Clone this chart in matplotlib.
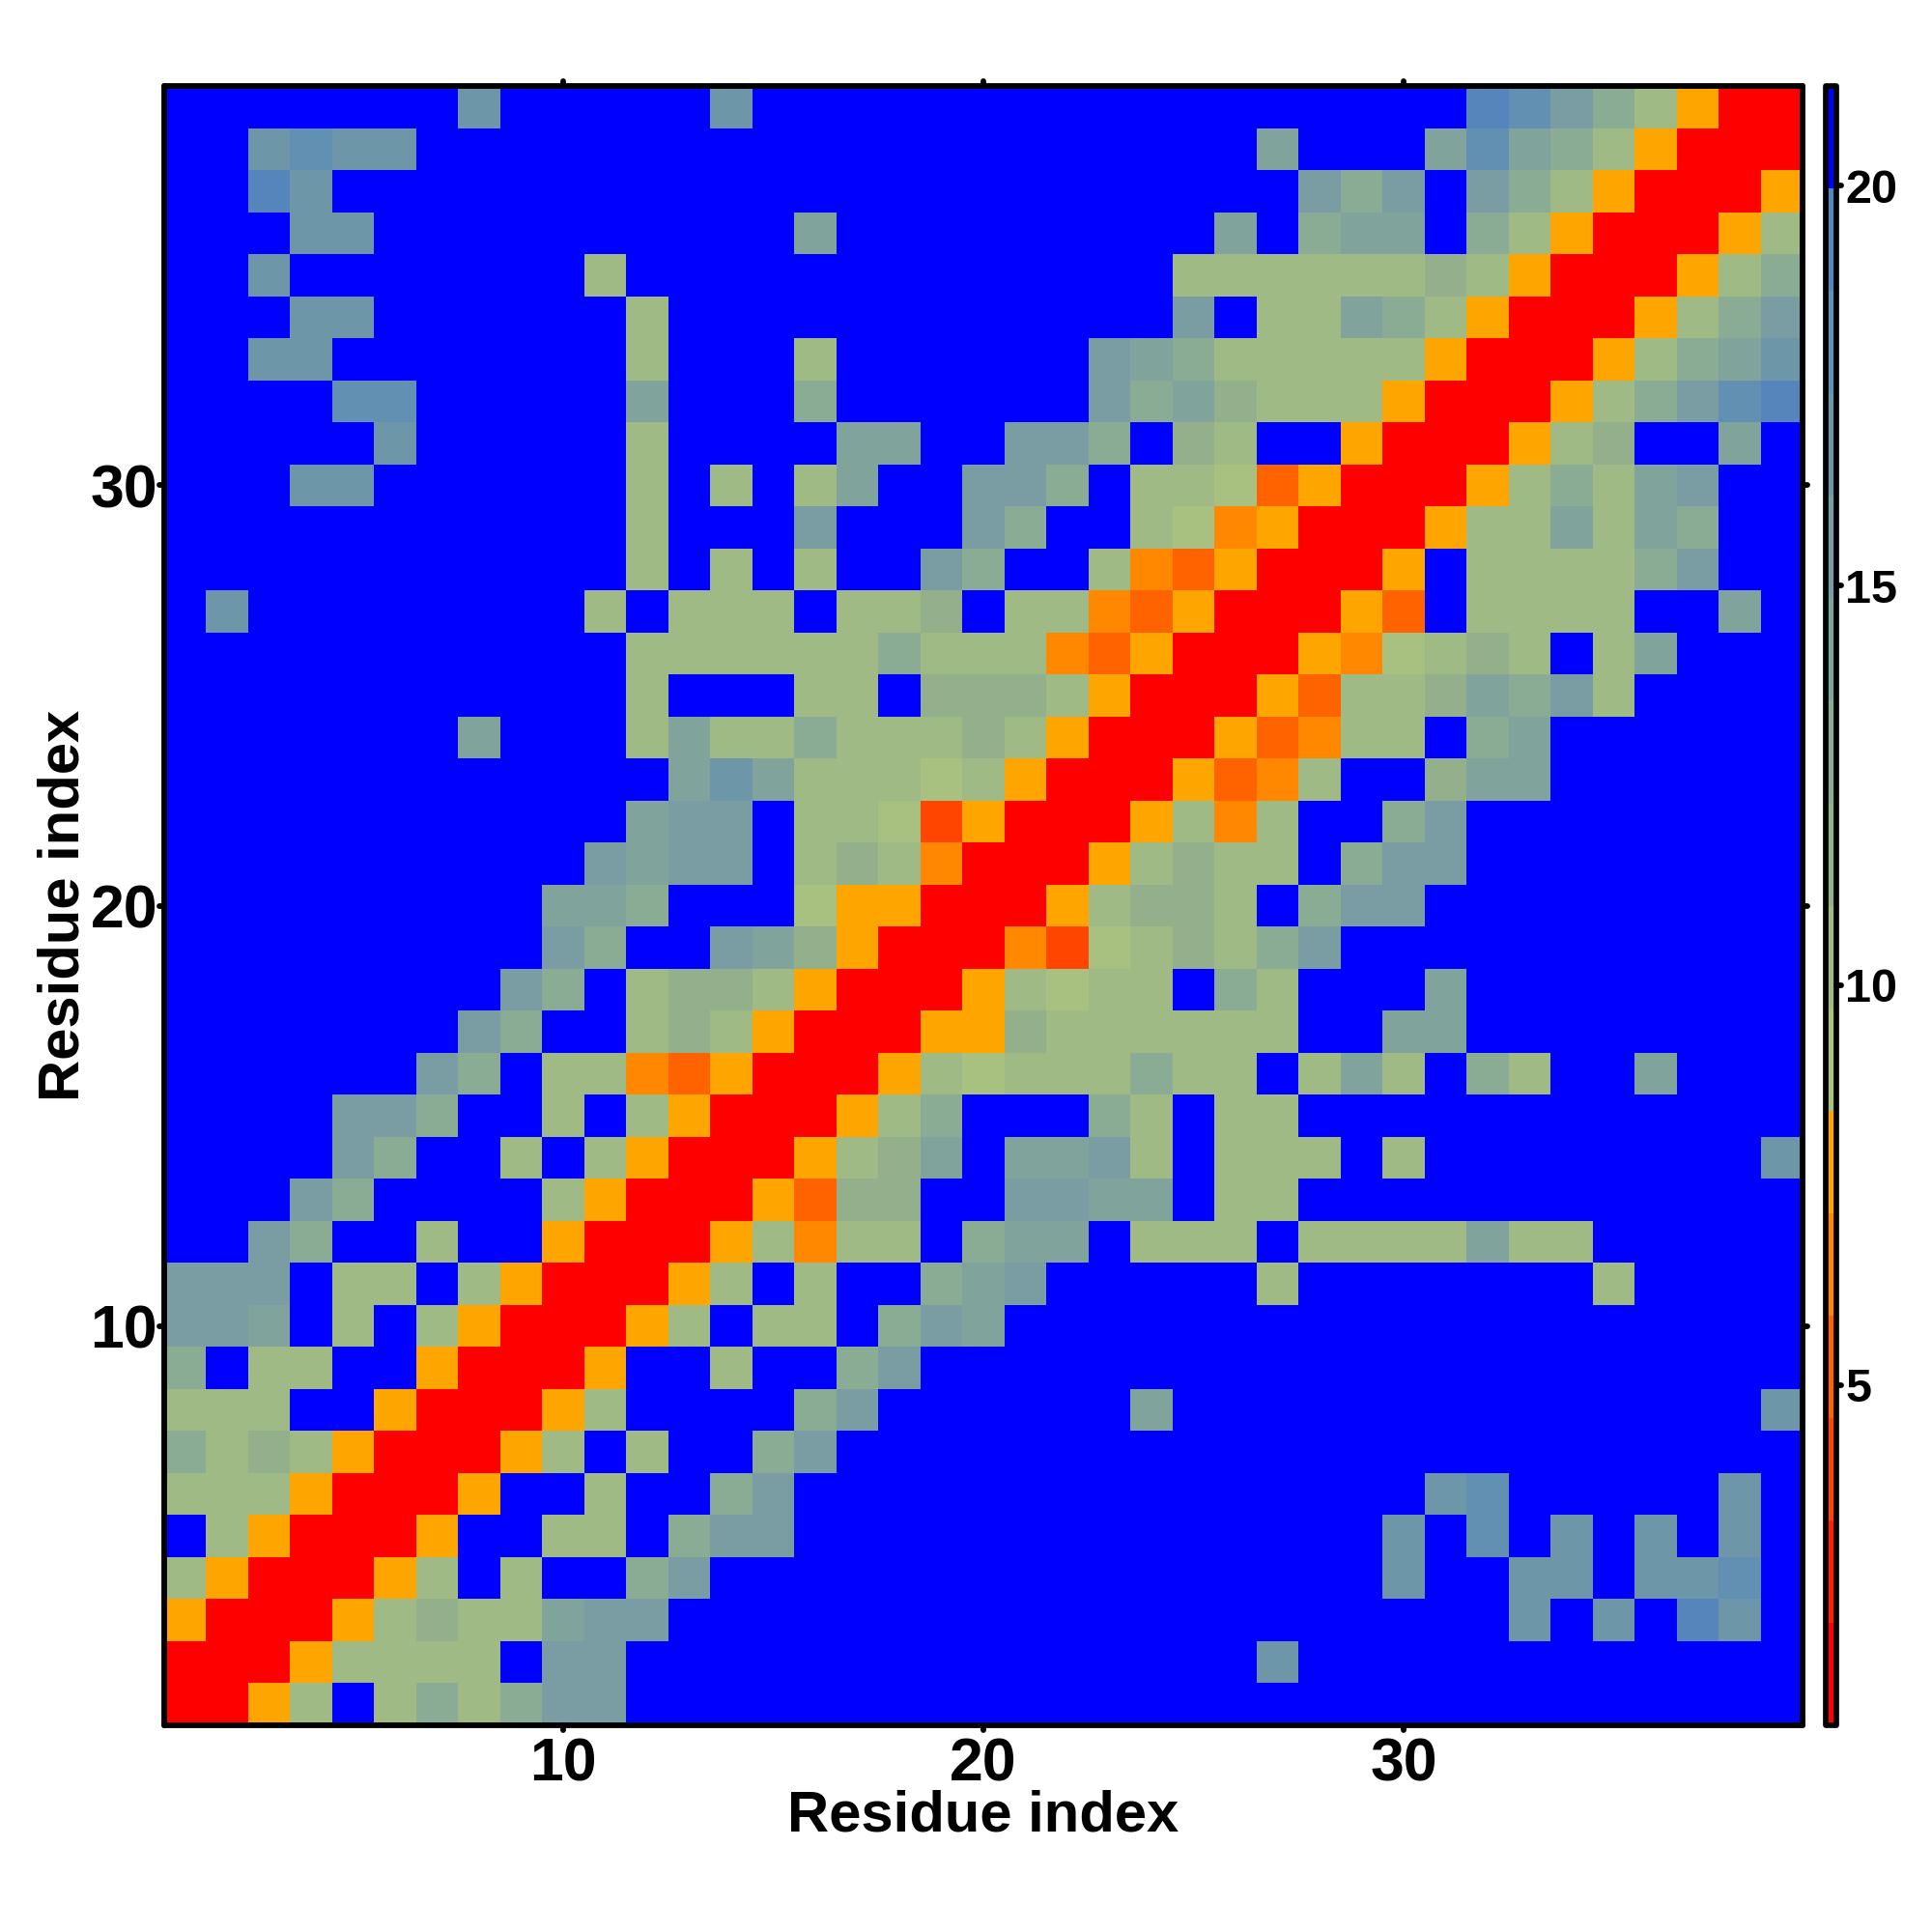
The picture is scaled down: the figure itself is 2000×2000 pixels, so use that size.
"""Residue distance map with a stepped colour bar."""

import numpy as np
import matplotlib
matplotlib.use("Agg")
import matplotlib.pyplot as plt
from matplotlib.colors import ListedColormap, Normalize
from matplotlib.markers import MarkerStyle, TICKLEFT, TICKRIGHT, TICKUP, TICKDOWN

plt.rcParams["font.family"] = ["Liberation Sans", "DejaVu Sans"]
plt.rcParams["font.weight"] = "bold"

# colour bar range and its 16 steps, red end first
VMIN = 0.74
VMAX = 21.25
band_colors = [
    "#FF0000", "#FF2100", "#FF4500", "#FF6300", "#FF8800", "#FFA500",
    "#A8C080", "#9FBA85", "#93AF8C", "#8AAB94", "#80A39B", "#7A9DA3",
    "#6D97A9", "#6190B2", "#5585BA", "#0000FF",
]

# one hex digit per cell = index of the colour step; residue 39 first, columns 1-39
rows = [
    "fffffffcff fffcffffff ffffffffff fedb97500",
    "ffcdccffff ffffffffff ffffffafff ada975000",
    "ffecffffff ffffffffff fffffffb9b fb9750005",
    "fffccfffff fffffaffff fffffaf9aa f97500057",
    "ffcfffffff 7fffffffff ffff777777 875000579",
    "fffccfffff f7ffffffff ffffbf77a9 75000579b",
    "ffccffffff f7fff7ffff ffba977777 5000579ac",
    "ffffddffff fafff9ffff ffb9a87775 000579bde",
    "fffffcffff f7ffffaaff bb9f87ff50 00578ffaf",
    "fffccfffff f7f7f7affb b9f7763500 05797abff",
    "ffffffffff f7fffbfffb 9ff7645000 577a7a9ff",
    "ffffffffff f7f7f7ffb9 ff74350005 f77779bff",
    "fcffffffff 7f777f778f 7743500053 f7777ffaf",
    "ffffffffff f777777977 7435000546 787f7afff",
    "ffffffffff f7fff77f88 8750005377 8a9b7ffff",
    "fffffffaff f7a7797778 7500053477 f9affffff",
    "ffffffffff ffaca77767 50005347ff 8aaffffff",
    "ffffffffff fabbf77625 0005747ff9 bffffffff",
    "ffffffffff babbf78740 0057877f9b bffffffff",
    "fffffffffa a9fff65500 057887f9bb fffffffff",
    "fffffffffb 9ffba85000 4267879bff fffffffff",
    "ffffffffb9 f788750005 7677f97fff affffffff",
    "fffffffb9f f787500055 8777777ffa affffffff",
    "ffffffb9f7 7435000576 777977f7a7 f97ffafff",
    "ffffbb9ff7 f75000579f ff97f77fff fffffffff",
    "ffffb9ff7f 75000578af aab7f777f7 ffffffffc",
    "fffb9ffff7 50005388ff bbaaf77fff fffffffff",
    "ffb9ff7ff5 00057477f9 aaf777f777 7a77fffff",
    "bbbf77f750 0057f7ff9a bfffff7fff ffff7ffff",
    "bbaf7f7500 057f77f9ba ffffffffff fffffffff",
    "9f77ff5000 5ff7ff9bff ffffffffff fffffffff",
    "777ff50005 7ffff9bfff fffaffffff ffffffffc",
    "9787500057 f7ff9bffff ffffffffff fffffffff",
    "77750005ff 7ff9bfffff ffffffffff cdfffffcf",
    "f750005ff7 7f9bbfffff fffffffffc fdfcfcfcf",
    "7500057f7f f9bfffffff fffffffffc ffccfccdf",
    "500057877a bbffffffff ffffffffff ffcfcfecf",
    "00057777fb bfffffffff ffffffcfff fffffffff",
    "0057f7979b bfffffffff ffffffffff fffffffff",
]

residues = np.arange(1, 40)
axis_ticks = [10, 20, 30]
bar_ticks = [5, 10, 15, 20]
axis_label = "Residue index"


def round_ticks(axis, first, second):
    for tick in axis.get_major_ticks():
        tick.tick1line.set_marker(MarkerStyle(first, capstyle="round"))
        tick.tick2line.set_marker(MarkerStyle(second, capstyle="round"))


levels = np.array([[int(c, 16) for c in r.replace(" ", "")] for r in rows])
step = (VMAX - VMIN) / len(band_colors)
distance = VMIN + (levels + 0.5) * step

fig = plt.figure(figsize=(20, 20), dpi=100, facecolor="white")
ax = fig.add_axes([169.8 / 2000, 1 - 1786 / 2000, 1696.5 / 2000, 1697 / 2000])
cax = fig.add_axes([1889.5 / 2000, 1 - 1786 / 2000, 11.3 / 2000, 1697 / 2000])

cmap = ListedColormap(band_colors)
mesh = ax.pcolormesh(residues, residues[::-1], distance, shading="nearest",
                     cmap=cmap, norm=Normalize(VMIN, VMAX), linewidth=0,
                     rasterized=True)
ax.set_xlim(0.5, 39.5)
ax.set_ylim(0.5, 39.5)
ax.set_xticks(axis_ticks)
ax.set_yticks(axis_ticks)
ax.tick_params(axis="both", top=True, right=True, direction="out",
               length=3.8, width=4.2, labelsize=45)
ax.tick_params(axis="x", pad=4.6)
ax.tick_params(axis="y", pad=1)
round_ticks(ax.xaxis, TICKDOWN, TICKUP)
round_ticks(ax.yaxis, TICKLEFT, TICKRIGHT)
ax.set_xlabel(axis_label, fontsize=43, fontweight="bold", labelpad=-3)
ax.set_ylabel(axis_label, fontsize=43, fontweight="bold", labelpad=0)
for spine in ax.spines.values():
    spine.set_linewidth(4.2)
    spine.set_capstyle("round")

cbar = fig.colorbar(mesh, cax=cax)
cbar.set_ticks(bar_ticks)
cbar.ax.minorticks_off()
cbar.ax.tick_params(direction="out", length=3.8, width=4.2, labelsize=35, pad=3)
for tick in cbar.ax.yaxis.get_major_ticks():
    tick.tick2line.set_marker(MarkerStyle(TICKRIGHT, capstyle="round"))
cbar.outline.set_linewidth(4.1)
cbar.outline.set_joinstyle("round")

fig.savefig("out.png", dpi=100, facecolor="white")
